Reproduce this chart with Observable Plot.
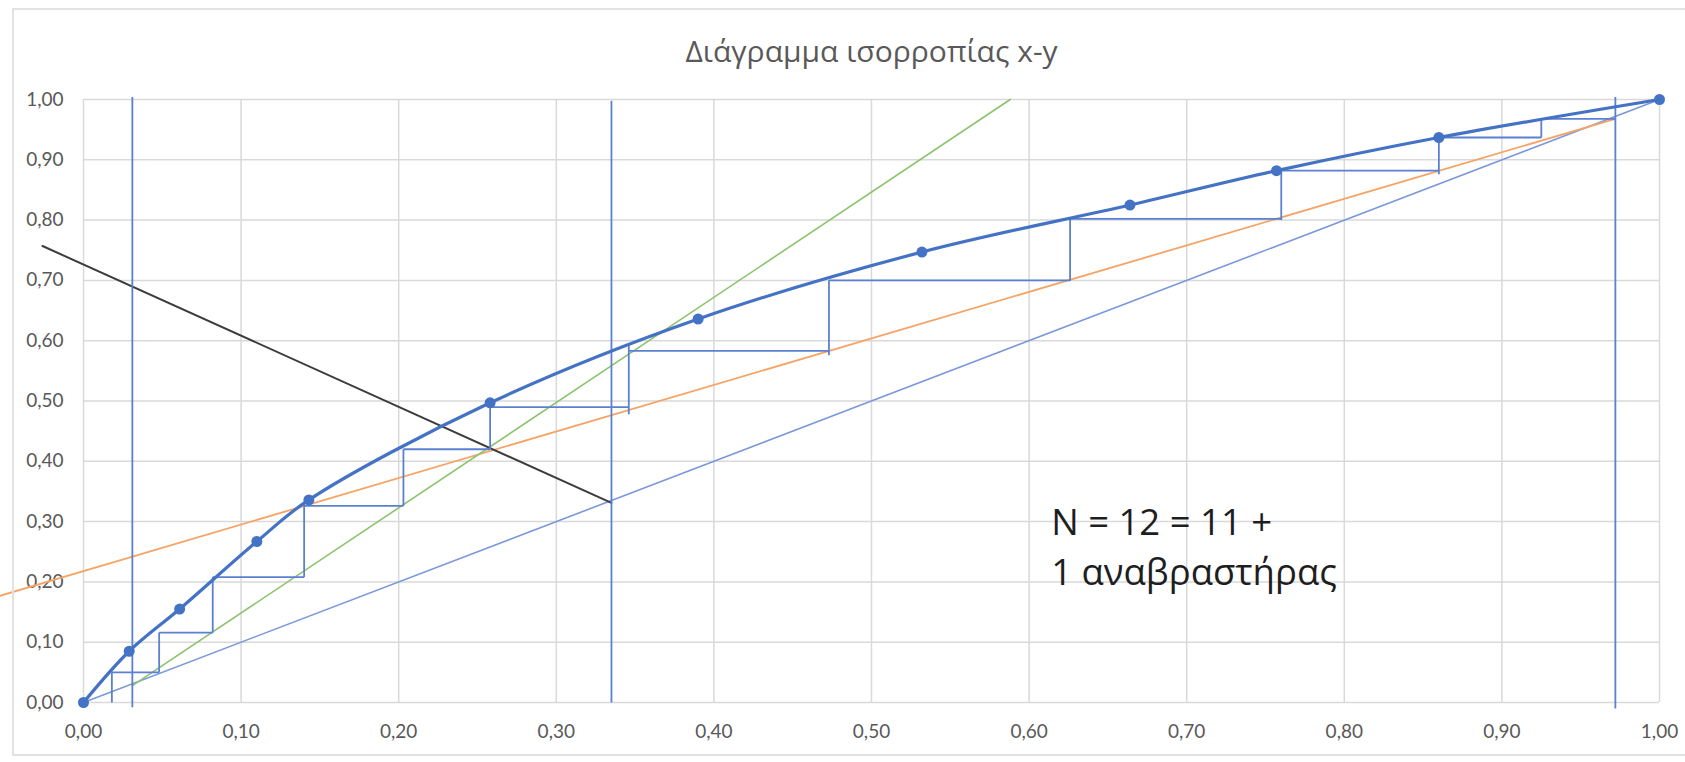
<!DOCTYPE html>
<html>
<head>
<meta charset="utf-8">
<script src="https://cdn.jsdelivr.net/npm/d3@7"></script>
<script src="https://cdn.jsdelivr.net/npm/@observablehq/plot@0.6"></script>
<style>
  html, body { margin: 0; padding: 0; background: #fff; }
  #wrap { position: relative; width: 1685px; height: 762px; overflow: hidden; background: #fff; }
  #frame { position: absolute; left: 12px; top: 8px; width: 1700px; height: 748px; border: 2px solid #e2e2e2; box-sizing: border-box; pointer-events: none; }
  #title { height: 80px; width: 1685px; box-sizing: border-box; padding-left: 58px; text-align: center; font-family: "Open Sans", sans-serif; font-size: 30px; color: #595959; line-height: 30px; padding-top: 36px; }
  #chart svg { display: block; }
</style>
</head>
<body>
<div id="wrap">
  <div id="frame"></div>
  <div id="title">Διάγραμμα ισορροπίας x-y</div>
  <div id="chart"></div>
</div>
<script>
// Axis ticks
const ticks = [0, 0.1, 0.2, 0.3, 0.4, 0.5, 0.6, 0.7, 0.8, 0.9, 1.0];
const tickLabels = ["0,00", "0,10", "0,20", "0,30", "0,40", "0,50", "0,60", "0,70", "0,80", "0,90", "1,00"];

// Equilibrium data (x-y)
const eqX = [0, 0.029, 0.061, 0.110, 0.143, 0.258, 0.390, 0.532, 0.664, 0.757, 0.860, 1.0];
const eqY = [0, 0.085, 0.155, 0.267, 0.336, 0.497, 0.636, 0.747, 0.825, 0.882, 0.937, 1.0];

// Diagonal y = x
const diagX = [0, 1];
const diagY = [0, 1];

// Rectifying operating line (orange)
const rectX = [-0.053, 0.972];
const rectY = [0.177, 0.968];

// Stripping operating line (green)
const stripX = [0.031, 0.588];
const stripY = [0.028, 1.0];

// q-line (black)
const qX = [-0.026, 0.335];
const qY = [0.757, 0.331];

// Vertical marker lines: xW, xF, xD
const markX = [0.031, 0.335, 0.972];
const markY1 = [-0.008, 0.0, -0.01];
const markY2 = [1.004, 0.998, 1.004];

// Stage steps: horizontal segments
const hY  = [0.968, 0.937, 0.882, 0.802, 0.700, 0.583, 0.490, 0.420, 0.326, 0.208, 0.116, 0.050];
const hX1 = [0.925, 0.858, 0.756, 0.626, 0.473, 0.346, 0.258, 0.203, 0.140, 0.082, 0.048, 0.018];
const hX2 = [0.972, 0.925, 0.860, 0.760, 0.626, 0.473, 0.346, 0.258, 0.203, 0.140, 0.082, 0.048];
// Stage steps: vertical segments
const vX  = [0.925, 0.860, 0.760, 0.626, 0.473, 0.346, 0.258, 0.203, 0.140, 0.082, 0.048, 0.018];
const vY1 = [0.968, 0.937, 0.882, 0.802, 0.700, 0.592, 0.496, 0.420, 0.330, 0.208, 0.116, 0.050];
const vY2 = [0.937, 0.876, 0.800, 0.699, 0.576, 0.478, 0.420, 0.326, 0.208, 0.116, 0.050, 0.000];

// Annotation
const noteX = [0.614];
const noteY = [0.195];
const noteText = ["N = 12 = 11 +\n1 αναβραστήρας"];

// ---- build tables ----
const zip = (xs, ys) => xs.map((x, i) => ({x, y: ys[i]}));
const eq = zip(eqX, eqY);
const diag = zip(diagX, diagY);
const rect = zip(rectX, rectY);
const strip = zip(stripX, stripY);
const qline = zip(qX, qY);
const marks = markX.map((x, i) => ({x, y1: markY1[i], y2: markY2[i]}));
const hSeg = hY.map((y, i) => ({y, x1: hX1[i], x2: hX2[i]}));
const vSeg = vX.map((x, i) => ({x, y1: vY1[i], y2: vY2[i]}));
const note = noteX.map((x, i) => ({x, y: noteY[i], t: noteText[i]}));

const fmt = d => tickLabels[ticks.findIndex(t => Math.abs(t - d) < 1e-9)];

const plot = Plot.plot({
  width: 1685,
  height: 682,
  marginTop: 19,
  marginBottom: 60,
  marginLeft: 83,
  marginRight: 26,
  x: {domain: [0, 1]},
  y: {domain: [0, 1]},
  style: {fontFamily: "Lato, sans-serif", fontSize: "19px", color: "#595959", background: "transparent", overflow: "visible"},
  marks: [
    Plot.gridX(ticks, {stroke: "#d9d9d9", strokeOpacity: 1, strokeWidth: 1.5}),
    Plot.gridY(ticks, {stroke: "#d9d9d9", strokeOpacity: 1, strokeWidth: 1.5}),
    Plot.axisX(ticks, {tickFormat: fmt, tickSize: 0, tickPadding: 22, fill: "#595959", label: null}),
    Plot.axisY(ticks, {tickFormat: fmt, tickSize: 0, tickPadding: 20, fill: "#595959", label: null}),
    Plot.line(diag, {x: "x", y: "y", stroke: "#7b98da", strokeWidth: 1.6}),
    Plot.line(rect, {x: "x", y: "y", stroke: "#f5a466", strokeWidth: 1.8}),
    Plot.line(strip, {x: "x", y: "y", stroke: "#8cc46c", strokeWidth: 1.6}),
    Plot.line(qline, {x: "x", y: "y", stroke: "#3c3c3c", strokeWidth: 2}),
    Plot.link(marks, {x1: "x", x2: "x", y1: "y1", y2: "y2", stroke: "#5b80d2", strokeWidth: 1.8}),
    Plot.link(hSeg, {x1: "x1", x2: "x2", y1: "y", y2: "y", stroke: "#5b80d2", strokeWidth: 1.8}),
    Plot.link(vSeg, {x1: "x", x2: "x", y1: "y1", y2: "y2", stroke: "#5b80d2", strokeWidth: 1.8}),
    Plot.line(eq, {x: "x", y: "y", stroke: "#4472c4", strokeWidth: 3.2, curve: "catmull-rom"}),
    Plot.dot(eq, {x: "x", y: "y", r: 5.5, fill: "#4472c4", stroke: "none"}),
    Plot.text(note, {x: "x", y: "y", text: "t", textAnchor: "start", lineAnchor: "bottom", lineHeight: 1.37, fontSize: 36.5, fontFamily: "Open Sans, sans-serif", fill: "#1e1e1e"})
  ]
});
document.getElementById("chart").appendChild(plot);
</script>
</body>
</html>
